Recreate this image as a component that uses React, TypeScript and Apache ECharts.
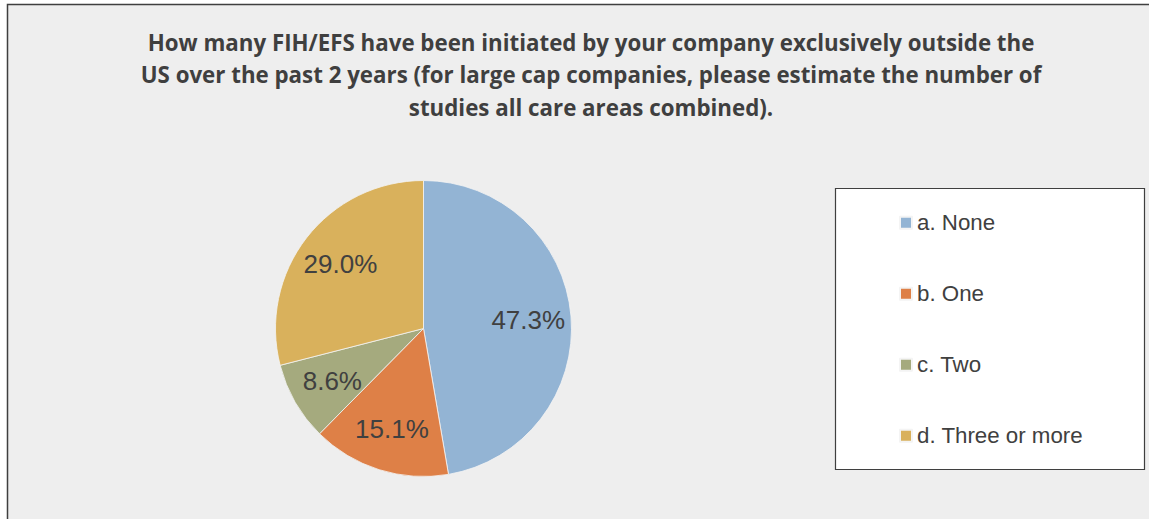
import React, { useEffect, useRef } from "react";
import * as echarts from "echarts";

const titleLines = [
  "How many FIH/EFS have been initiated by your company exclusively outside the",
  "US over the past 2 years (for large cap companies, please estimate the number of",
  "studies all care areas combined).",
];
const categories = ["a. None", "b. One", "c. Two", "d. Three or more"];
const values = [47.3, 15.1, 8.6, 29.0];
const colors = ["#93B4D4", "#DE8047", "#A5AA7E", "#D9B15C"];

export default function App() {
  const ref = useRef<HTMLDivElement>(null);
  useEffect(() => {
    if (!ref.current) return;
    const chart = echarts.init(ref.current, undefined, { renderer: "svg" });
    const R = 148;
    const data = categories.map((name, i) => ({
      name,
      value: values[i],
      itemStyle: { color: colors[i] },
    }));
    chart.setOption({
      animation: false,
      backgroundColor: "#ffffff",
      graphic: [
        {
          type: "rect",
          z: 0,
          shape: { x: 7.5, y: 4.5, width: 1300, height: 700 },
          style: { fill: "#EEEEEE", stroke: "#3F3F3F", lineWidth: 1.5 },
        },
        {
          type: "rect",
          z: 1,
          shape: { x: 835.5, y: 188.5, width: 309, height: 281 },
          style: { fill: "#FFFFFF", stroke: "#3F3F3F", lineWidth: 1.2 },
        },
        {
          type: "text",
          z: 2,
          x: 591,
          y: 26,
          style: {
            text: titleLines.join("\n"),
            fill: "#3F3F3F",
            fontWeight: "bold",
            fontFamily: "Open Sans",
            fontSize: 22.3,
            lineHeight: 32.5,
            align: "center",
            verticalAlign: "top",
          },
        },
      ],
      legend: {
        orient: "vertical",
        left: 894,
        top: 205.7,
        itemWidth: 12,
        itemHeight: 12,
        itemGap: 47,
        icon: "rect",
        textStyle: {
          fontSize: 22.3,
          lineHeight: 24,
          color: "#404040",
          fontFamily: "'Liberation Sans', Arial, sans-serif",
        },
        data: categories.map((name, i) => ({ name, itemStyle: { color: colors[i] } })),
      },
      series: [
        {
          type: "pie",
          center: [423.5, 328.5],
          radius: [0, R],
          startAngle: 90,
          clockwise: true,
          label: { show: false },
          labelLine: { show: false },
          emphasis: { disabled: true },
          itemStyle: { borderColor: "#F4F4F4", borderWidth: 0.8 },
          data,
        },
        {
          type: "pie",
          center: [423.5, 328.5],
          radius: [R * 0.38, R],
          startAngle: 90,
          clockwise: true,
          silent: true,
          emphasis: { disabled: true },
          itemStyle: { color: "rgba(0,0,0,0)", borderWidth: 0 },
          label: {
            show: true,
            position: "inside",
            formatter: (p: any) => p.value.toFixed(1) + "%",
            fontSize: 26,
            color: "#404040",
            fontFamily: "'Liberation Sans', Arial, sans-serif",
          },
          labelLine: { show: false },
          data: categories.map((name, i) => ({ name, value: values[i] })),
        },
      ],
    });
    return () => chart.dispose();
  }, []);
  return (
    <div
      ref={ref}
      style={{ position: "absolute", left: 0, top: 0, width: 1149, height: 519 }}
    />
  );
}
